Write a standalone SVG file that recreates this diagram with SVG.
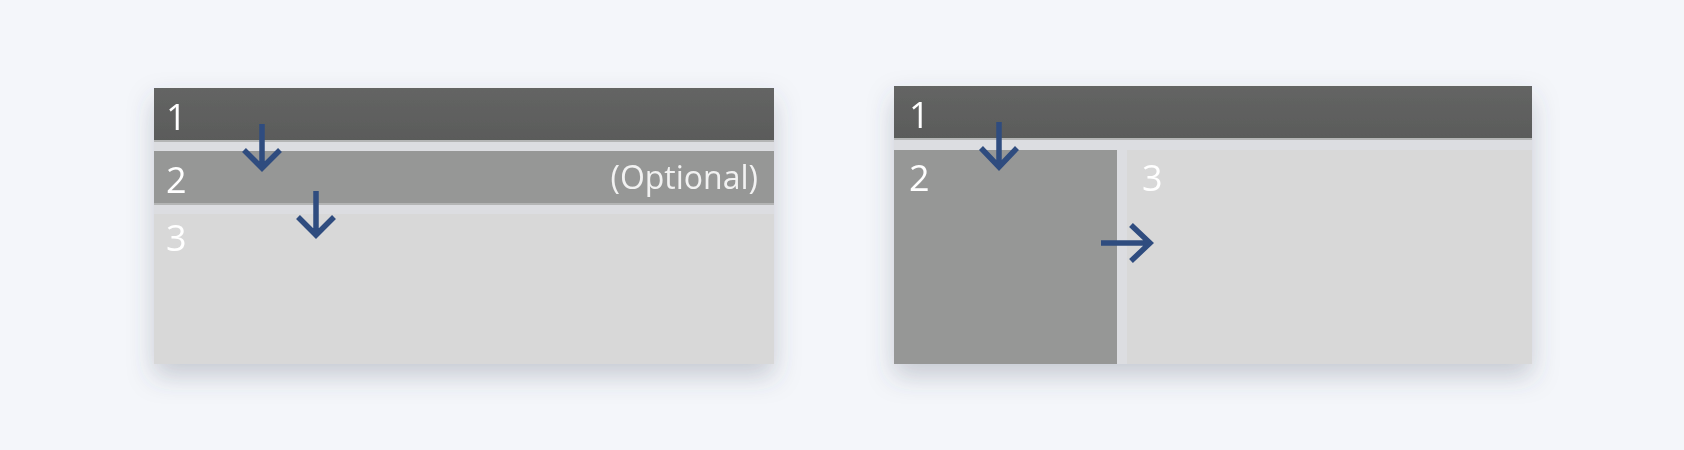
<svg xmlns="http://www.w3.org/2000/svg" width="1684" height="450" viewBox="0 0 1684 450">
  <defs>
    <filter id="shadow" x="-10%" y="-20%" width="120%" height="160%">
      <feDropShadow dx="0" dy="12" stdDeviation="13" flood-color="#4a5060" flood-opacity="0.26"/>
    </filter>
    <linearGradient id="dark" x1="0" y1="0" x2="0" y2="1">
      <stop offset="0" stop-color="#646564"/>
      <stop offset="1" stop-color="#5a5b5a"/>
    </linearGradient>
  </defs>
  <style>
    .gap { fill: #dcdde1; }
    .b1 { fill: url(#dark); }
    .b2 { fill: #969796; }
    .b3 { fill: #d8d8d8; }
    .hl { fill: #b4b5b5; }
    .num { font-family: "Open Sans", "Noto Sans", sans-serif; font-size: 36px; fill: #ffffff; }
    .opt { font-family: "Open Sans", "Noto Sans", sans-serif; font-size: 32px; fill: #f2f2f2; }
    .arr { fill: none; stroke: #2f4c7f; stroke-width: 5.5; stroke-linecap: butt; stroke-linejoin: miter; }
  </style>
  <rect width="1684" height="450" fill="#f4f6fa"/>

  <g id="layout-left" filter="url(#shadow)">
    <rect class="gap" x="154" y="88" width="620" height="276"/>
    <g id="left-1">
      <rect class="b1" x="154" y="88" width="620" height="53"/>
      <rect class="hl" x="154" y="140" width="620" height="2"/>
      <text class="num" x="166" y="130">1</text>
    </g>
    <g id="left-2">
      <rect class="b2" x="154" y="151" width="620" height="53"/>
      <rect class="hl" x="154" y="203" width="620" height="2"/>
      <text class="num" x="166" y="193">2</text>
      <text class="opt" x="758" y="189" text-anchor="end">(Optional)</text>
    </g>
    <g id="left-3">
      <rect class="b3" x="154" y="214" width="620" height="150"/>
      <text class="num" x="166" y="251">3</text>
    </g>
  </g>

  <g id="layout-right" filter="url(#shadow)">
    <rect class="gap" x="894" y="86" width="638" height="278"/>
    <g id="right-1">
      <rect class="b1" x="894" y="86" width="638" height="53"/>
      <rect class="hl" x="894" y="138" width="638" height="2"/>
      <text class="num" x="909" y="128">1</text>
    </g>
    <g id="right-2">
      <rect class="b2" x="894" y="150" width="223" height="214"/>
      <text class="num" x="909" y="191">2</text>
    </g>
    <g id="right-3">
      <rect class="b3" x="1127" y="150" width="405" height="214"/>
      <text class="num" x="1142" y="191">3</text>
    </g>
  </g>

  <g id="connectors">
    <path class="arr" d="M262 124 V168 M244 150 L262 168 L280 150"/>
    <path class="arr" d="M316 191 V235 M298 217 L316 235 L334 217"/>
    <path class="arr" d="M999 122 V167 M981 148 L999 167 L1017 148"/>
    <path class="arr" d="M1101 243 H1150 M1131 225 L1150 243 L1131 261"/>
  </g>
</svg>
